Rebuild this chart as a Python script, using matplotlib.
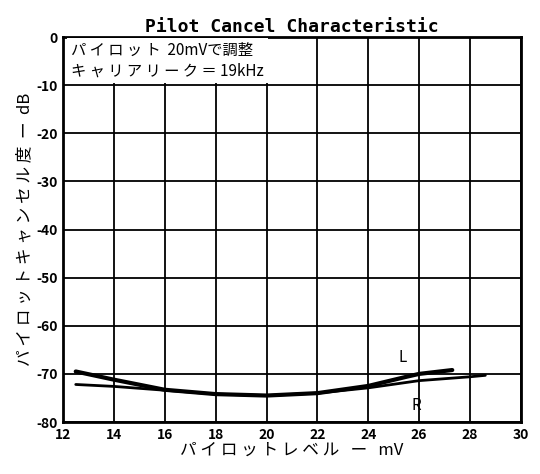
import matplotlib
matplotlib.use("Agg")
import matplotlib.pyplot as plt

plt.rcParams['font.family'] = ['Noto Sans CJK JP', 'DejaVu Sans']

# pilot level (mV) vs cancel (dB)
L_x = [12.5, 14, 16, 18, 20, 22, 24, 25.5, 26, 27.3]
L_y = [-69.5, -71.2, -73.3, -74.2, -74.5, -74.0, -72.5, -70.6, -70.0, -69.2]
R_x = [12.5, 14, 16, 18, 20, 22, 24, 26, 28, 28.6]
R_y = [-72.2, -72.6, -73.4, -74.2, -74.5, -74.0, -72.9, -71.4, -70.6, -70.3]

x_ticks = [12, 14, 16, 18, 20, 22, 24, 26, 28, 30]
y_ticks = [0, -10, -20, -30, -40, -50, -60, -70, -80]

fig = plt.figure(figsize=(5.4, 4.74), dpi=100)
ax = fig.add_axes([0.1167, 0.1097, 0.848, 0.812])

ax.plot(L_x, L_y, color='black', lw=3.0, solid_capstyle='round')
ax.plot(R_x, R_y, color='black', lw=2.0, solid_capstyle='round')

ax.set_xlim(12, 30)
ax.set_ylim(-80, 0)
ax.set_xticks(x_ticks)
ax.set_yticks(y_ticks)
ax.set_xticklabels([str(v) for v in x_ticks], fontweight='bold', fontsize=10)
ax.set_yticklabels([str(v) for v in y_ticks], fontweight='bold', fontsize=10)
ax.tick_params(length=0, pad=4)
ax.grid(True, color='black', lw=1.3)
for s in ax.spines.values():
    s.set_linewidth(2)
    s.set_color('black')

ax.text(12.3, -1.0, "パ イ ロ ッ ト  20mVで調整\nキ ャ リ ア リ ー ク ＝ 19kHz", fontsize=11,
        va='top', ha='left', linespacing=1.25,
        bbox=dict(facecolor='white', edgecolor='none', pad=3))
ax.text(25.2, -67.5, "L", fontsize=11)
ax.text(25.7, -77.5, "R", fontsize=11)

ax.set_title("Pilot Cancel Characteristic", family='DejaVu Sans Mono',
             fontweight='bold', fontsize=13, pad=4)
ax.set_xlabel("パ イ ロ ッ ト レ ベ ル   ー   mV", fontsize=12, labelpad=0)
ax.set_ylabel("パ イ ロ ッ ト キ ャ ン セ ル 度  ー  dB", fontsize=12, labelpad=2)

fig.savefig("out.png", dpi=100)
